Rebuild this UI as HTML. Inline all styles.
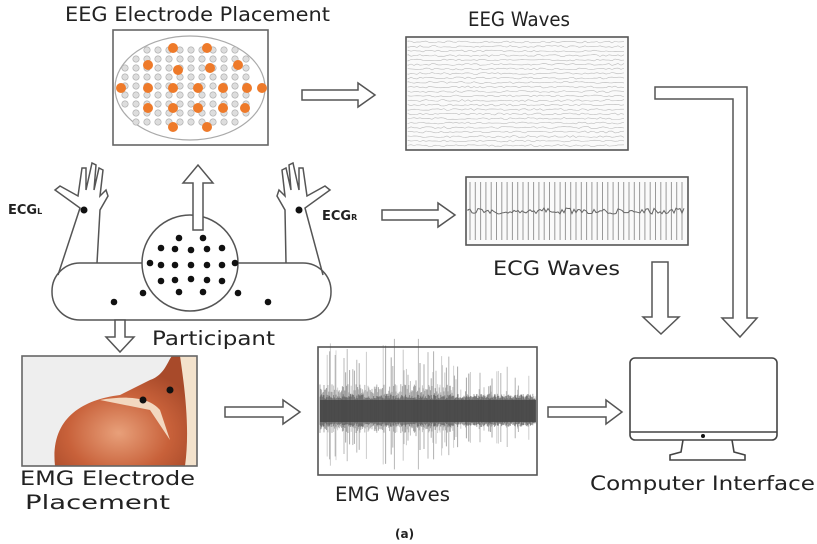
<!DOCTYPE html>
<html><head><style>
body{margin:0;background:#fff;width:817px;height:544px;overflow:hidden;}
svg{display:block}
text{font-family:"DejaVu Sans","Liberation Sans",sans-serif;fill:#222}
</style></head><body>
<svg id="s" width="817" height="544" viewBox="0 0 817 544" xmlns="http://www.w3.org/2000/svg">
<defs>
<radialGradient id="mus" cx="0.45" cy="0.7" r="0.6"><stop offset="0" stop-color="#e8a07a"/><stop offset="0.6" stop-color="#c8613a"/><stop offset="1" stop-color="#a84a2a"/></radialGradient>
</defs>
<rect x="113" y="30" width="155" height="115" fill="none" stroke="#666" stroke-width="1.6"/>
<text x="65" y="21" font-size="19.5" textLength="265" lengthAdjust="spacingAndGlyphs">EEG Electrode Placement</text>
<text x="468" y="26" font-size="19.5" textLength="102" lengthAdjust="spacingAndGlyphs">EEG Waves</text>
<text x="493" y="275" font-size="19.5" textLength="127" lengthAdjust="spacingAndGlyphs">ECG Waves</text>
<text x="152" y="345" font-size="19.5" textLength="123" lengthAdjust="spacingAndGlyphs">Participant</text>
<text x="20" y="485" font-size="19.5" textLength="175" lengthAdjust="spacingAndGlyphs">EMG Electrode</text>
<text x="25" y="509" font-size="19.5" textLength="145" lengthAdjust="spacingAndGlyphs">Placement</text>
<text x="335" y="501" font-size="19.5" textLength="115" lengthAdjust="spacingAndGlyphs">EMG Waves</text>
<text x="590" y="490" font-size="19.5" textLength="225" lengthAdjust="spacingAndGlyphs">Computer Interface</text>
<text x="395" y="538" font-size="12" font-family="Liberation Serif" font-weight="bold">(a)</text>
<text x="8" y="214" font-size="13" font-weight="bold">ECG<tspan font-size="8">L</tspan></text>
<text x="322" y="220" font-size="13" font-weight="bold">ECG<tspan font-size="8">R</tspan></text>
<g id="head"></g>
<rect x="406" y="37" width="222" height="113" fill="#fafafa" stroke="#555" stroke-width="1.6"/>
<g id="eeg"></g>
<rect x="466" y="177" width="222" height="68" fill="#fafafa" stroke="#555" stroke-width="1.6"/>
<g id="ecg"></g>
<rect x="318" y="347" width="219" height="128" fill="#fff" stroke="#555" stroke-width="1.6"/>
<g id="emg"></g>
<rect x="22" y="356" width="175" height="110" fill="#eeeeee"/>
<path d="M55 466 C50 420 80 400 120 395 L150 380 C165 375 168 360 172 356 L197 356 L197 466 Z" fill="url(#mus)"/>
<path d="M100 400 C130 395 150 398 160 410 L170 440 L150 410 Z" fill="#f2d8c0"/>
<path d="M180 356 L197 356 L197 466 L185 466 C190 430 185 390 180 356Z" fill="#f3e2cc"/>
<circle cx="143" cy="400" r="3.5" fill="#111"/><circle cx="170" cy="390" r="3.5" fill="#111"/>
<rect x="22" y="356" width="175" height="110" fill="none" stroke="#666" stroke-width="1.6"/>
<g fill="none" stroke="#555" stroke-width="1.5">
<rect x="52" y="263" width="279" height="57" rx="28"/>
<path d="M58 275 L80 208 L55 190 L60 186 L78 196 L82 168 L86 168 L86 190 L92 163 L96 165 L94 190 L99 168 L103 170 L100 196 L106 190 L108 196 L100 210 L97 263"/>
<path d="M323 275 L305 208 L330 190 L325 186 L307 196 L303 168 L299 168 L299 190 L293 163 L289 165 L291 190 L286 168 L282 170 L285 196 L279 190 L277 196 L285 210 L286 263"/>
</g>
<circle cx="190" cy="263" r="48" fill="#fff" stroke="#555" stroke-width="1.5"/>
<g id="dots" fill="#111"></g>
<g fill="#fff" stroke="#555" stroke-width="1.5">
<polygon points="302,90 358,90 358,83 375,95 358,107 358,100 302,100"/>
<polygon points="382,210 438,210 438,203 455,215 438,227 438,220 382,220"/>
<polygon points="225,407 283,407 283,400 300,412 283,424 283,417 225,417"/>
<polygon points="548,407 606,407 606,400 622,412 606,424 606,417 548,417"/>
<polygon points="193,230 193,183 183,183 198,165 213,183 203,183 203,230"/>
<polygon points="115,320 115,337 106,337 120,352 134,337 125,337 125,320"/>
<polygon points="652,262 652,317 643,317 661,334 679,317 668,317 668,262"/>
<polygon points="655,87 747,87 747,318 757,318 740,337 722,318 733,318 733,99 655,99"/>
</g>
<g fill="none" stroke="#444" stroke-width="1.6">
<rect x="630" y="358" width="147" height="82" rx="5"/>
<line x1="630" y1="432" x2="777" y2="432"/>
<path d="M683 440 L681 452 L670 455 L670 460 L745 460 L745 455 L734 452 L732 440"/>
</g>
<circle cx="703" cy="436" r="2" fill="#111"/>
</svg>
<script>
var NS="http://www.w3.org/2000/svg";
function el(p,t,a){var e=document.createElementNS(NS,t);for(var k in a)e.setAttribute(k,a[k]);document.getElementById(p).appendChild(e);return e;}
var r=1;function rnd(){r=(r*16807)%2147483647;return r/2147483647;}
el("head","ellipse",{cx:190,cy:88,rx:75,ry:52,fill:"none",stroke:"#aaa","stroke-width":1.2});
for(var y=50;y<=130;y+=9)for(var x=125;x<=255;x+=11){var dx=(x-190)/75,dy=(y-88)/52;if(dx*dx+dy*dy<0.95)el("head","circle",{cx:x,cy:y,r:3.2,fill:"#ddd",stroke:"#aaa","stroke-width":0.6});}
var o=[[173,48],[207,48],[148,65],[178,70],[210,68],[238,65],[121,88],[148,88],[173,88],[198,88],[223,88],[247,88],[262,88],[148,108],[173,108],[198,108],[223,108],[245,108],[173,127],[207,127]];
o.forEach(function(p){el("head","circle",{cx:p[0],cy:p[1],r:5,fill:"#ee7a2a"});});
for(var i=0;i<24;i++){var yy=42+i*4.5,d="M408 "+yy;for(var x=408;x<=626;x+=3)d+=" L"+x+" "+(yy+(rnd()-0.5)*2);el("eeg","path",{d:d,fill:"none",stroke:"#bbb","stroke-width":0.6});}
for(var x=470;x<686;x+=5.3){el("ecg","line",{x1:x,y1:182,x2:x,y2:240,stroke:"#999","stroke-width":1});}
var d="M468 211";for(var x=468;x<686;x+=2)d+=" L"+x+" "+(211+(rnd()-0.5)*6);el("ecg","path",{d:d,fill:"none",stroke:"#666","stroke-width":1});
for(var x=320;x<536;x+=0.8){var base=14+rnd()*10;var amp=base;if(rnd()<0.2)amp=25+rnd()*45;
var env=1;if(x>455)env=0.6;
el("emg","line",{x1:x,y1:408-amp*env,x2:x,y2:414+amp*env*0.8,stroke:"#555","stroke-width":1,"stroke-opacity":0.25+rnd()*0.3});}
for(var x=320;x<536;x+=0.8){var a=10+rnd()*8;el("emg","line",{x1:x,y1:405-a*0.6,x2:x,y2:418+a*0.5,stroke:"#444","stroke-width":1,"stroke-opacity":0.5});}
el("emg","rect",{x:320,y:400,width:216,height:22,fill:"#444","fill-opacity":0.85});
var dd=[[179,238],[203,238],[161,248],[175,249],[191,250],[207,249],[222,248],[150,263],[161,265],[175,265],[191,265],[207,265],[222,265],[235,263],[161,281],[175,280],[191,279],[207,280],[222,281],[179,292],[203,292],[143,293],[238,293],[114,302],[268,302]];
dd.forEach(function(p){el("dots","circle",{cx:p[0],cy:p[1],r:3.3});});
el("dots","circle",{cx:84,cy:210,r:3.5});el("dots","circle",{cx:299,cy:210,r:3.5});
</script>
</body></html>
